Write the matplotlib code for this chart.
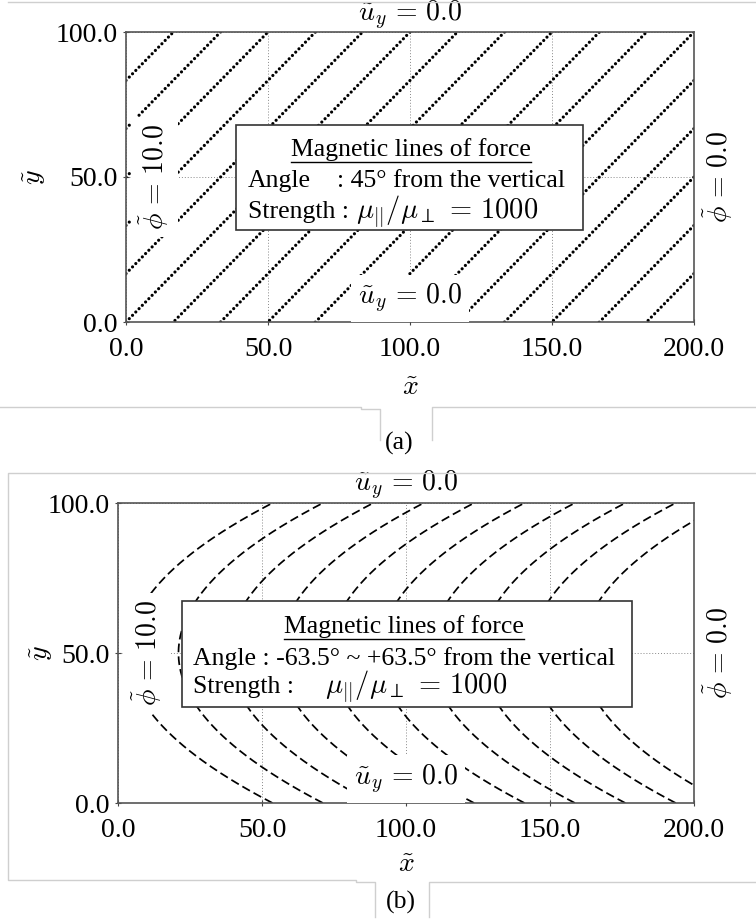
import matplotlib
matplotlib.use("Agg")
import matplotlib.pyplot as plt
import numpy as np
from matplotlib.lines import Line2D
from matplotlib.patches import Rectangle

plt.rcParams['font.family'] = ['Liberation Serif', 'DejaVu Serif']
plt.rcParams['mathtext.fontset'] = 'cm'

# panel (a): straight lines of force, offsets where each line meets y = 0
offsets_a = [-83.3, -66.7, -50.0, -33.3, -16.7, 0.0, 16.7, 33.3, 50.0,
             66.7, 83.3, 100.0, 116.7, 133.3, 150.0, 166.7, 183.3]
angle_a = 45.0          # degrees from the vertical

# panel (b): curved lines of force, x where each line is vertical (y = 50)
vertex_b = [3.5, 21.0, 38.5, 56.0, 73.5, 91.0, 108.5, 126.0, 143.5, 161.0]
angle_b = 63.5          # max degrees from the vertical at y = 0 / 100

xticks = [0.0, 50.0, 100.0, 150.0, 200.0]
yticks = [0.0, 50.0, 100.0]
tick_labels_x = ["0.0", "50.0", "100.0", "150.0", "200.0"]
tick_labels_y = ["0.0", "50.0", "100.0"]

W, H = 756, 921
fig = plt.figure(figsize=(W / 100, H / 100), dpi=100)


def px_axes(l, r, t, b):
    return fig.add_axes([l / W, 1 - b / H, (r - l) / W, (b - t) / H])


def setup(ax, ylab_x, xlab_y):
    ax.set_xlim(0, 200)
    ax.set_ylim(0, 100)
    ax.set_xticks(xticks)
    ax.set_xticklabels(tick_labels_x)
    ax.set_yticks(yticks)
    ax.set_yticklabels(tick_labels_y)
    ax.tick_params(labelsize=20, length=4, direction='inout', color='#444')
    ax.tick_params(axis='x', pad=9)
    ax.tick_params(axis='y', pad=4)
    ax.grid(True, linestyle=(0, (1, 2)), color='#888', lw=0.7)
    for s in ax.spines.values():
        s.set_color('#555')
        s.set_linewidth(1.2)
    wb = dict(boxstyle='square,pad=0.25', fc='white', ec='none')
    ax.text(0.5, 1.058, r'$\tilde{u}_y\,=\,0.0$', transform=ax.transAxes,
            ha='center', va='center', fontsize=20)
    ax.text(0.5, 0.08, r'$\tilde{u}_y\,=\,0.0$', transform=ax.transAxes,
            ha='center', va='center', fontsize=20, bbox=wb, zorder=4)
    ax.text(0.05, 0.5, r'$\tilde{\phi}\,=\,10.0$', transform=ax.transAxes,
            ha='center', va='center', fontsize=20, rotation=90, bbox=wb, zorder=4)
    ax.text(1.042, 0.5, r'$\tilde{\phi}\,=\,0.0$', transform=ax.transAxes,
            ha='center', va='center', fontsize=20, rotation=90)
    ax.set_xlabel(r'$\tilde{x}$', fontsize=20)
    ax.set_ylabel(r'$\tilde{y}$', fontsize=20)
    ax.xaxis.set_label_coords(0.5, xlab_y)
    ax.yaxis.set_label_coords(ylab_x, 0.5)


# ---------- panel (a)
ax1 = px_axes(126, 694, 32, 322)
setup(ax1, -0.137, -0.185)
slope = 1.0 / np.tan(np.radians(angle_a))
xs = np.array([0.0, 200.0])
for c in offsets_a:
    ax1.plot(xs, slope * (xs - c), color='black', lw=2.3,
             linestyle=(0, (0.01, 1.45)), dash_capstyle='round', zorder=2)

# ---------- panel (b)
ax2 = px_axes(118, 694, 503, 803)
setup(ax2, -0.109, -0.165)
k = np.tan(np.radians(angle_b)) / 50.0     # dx/dy grows linearly with |y-50|
ys = np.linspace(0, 100, 300)
for x0 in vertex_b:
    ax2.plot(x0 + k * (ys - 50) ** 2 / 2, ys, color='black', lw=1.25,
             linestyle=(0, (5.0, 2.4)), zorder=2)

FS = 18.5
MS = 20.5
boxes = [(236, 583, 125, 230), (182, 632, 601, 707)]
for l, r, t, b in boxes:
    fig.add_artist(Rectangle((l / W, 1 - b / H), (r - l) / W, (b - t) / H,
                             transform=fig.transFigure, fc='white', ec='#333',
                             lw=1.2, zorder=5))

# box (a)
t1 = fig.text(411 / W, 1 - 156 / H, 'Magnetic lines of force', fontsize=FS,
              ha='center', va='baseline', zorder=6)
fig.text(248 / W, 1 - 187 / H, 'Angle', fontsize=FS, va='baseline', zorder=6)
fig.text(337 / W, 1 - 187 / H, ': 45° from the vertical', fontsize=FS,
         va='baseline', zorder=6)
fig.text(248 / W, 1 - 218 / H, 'Strength :', fontsize=FS, va='baseline', zorder=6)
fig.text(356 / W, 1 - 218 / H, r'$\mu_{||}/\mu_{\perp}\,=\,1000$',
         fontsize=MS, va='baseline', zorder=6)

# box (b)
t2 = fig.text(404 / W, 1 - 633 / H, 'Magnetic lines of force', fontsize=FS,
              ha='center', va='baseline', zorder=6)
fig.text(193 / W, 1 - 665 / H, 'Angle : -63.5° ~ +63.5° from the vertical',
         fontsize=FS, va='baseline', zorder=6)
fig.text(193 / W, 1 - 693 / H, 'Strength :', fontsize=FS, va='baseline', zorder=6)
fig.text(325 / W, 1 - 693 / H, r'$\mu_{||}/\mu_{\perp}\,=\,1000$',
         fontsize=MS, va='baseline', zorder=6)

# underline the box titles
fig.canvas.draw()
r = fig.canvas.get_renderer()
for t in (t1, t2):
    bb = t.get_window_extent(r)
    y = bb.y0 - 1
    fig.add_artist(Line2D([bb.x0 / W, bb.x1 / W], [y / H, y / H],
                          transform=fig.transFigure, color='black', lw=1.0,
                          zorder=7))

# captions and the light frame lines around them
gray = '#cfcfcf'


def fline(xp, yp):
    fig.add_artist(Line2D([x / W for x in xp], [1 - y / H for y in yp],
                          transform=fig.transFigure, color=gray, lw=1.0))


fline([8, 756], [2, 2])
fline([0, 361, 361, 380, 380], [407, 407, 409, 409, 440])
fline([432, 432, 756], [440, 407, 407])
fig.text(399 / W, 1 - 443 / H, '(a)', fontsize=FS, ha='center', va='center')

fline([756, 8, 8, 356, 356, 375, 375], [473, 473, 880, 880, 882, 882, 917])
fline([429, 429, 756], [917, 882, 882])
fig.text(401 / W, 1 - 902 / H, '(b)', fontsize=FS, ha='center', va='center')

fig.savefig('out.png', dpi=100)
